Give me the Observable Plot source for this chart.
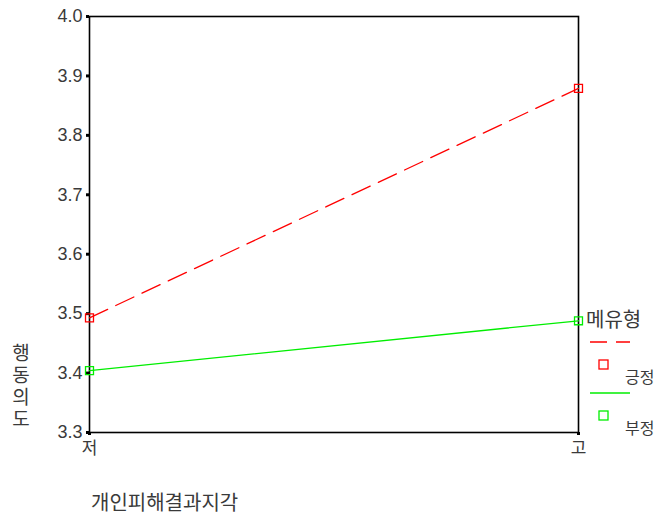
<!DOCTYPE html>
<html><head><meta charset="utf-8">
<script src="https://cdn.jsdelivr.net/npm/d3@7"></script>
<script src="https://cdn.jsdelivr.net/npm/@observablehq/plot@0.6"></script>
<style>
body{margin:0;background:#fff;}
#wrap{position:relative;width:659px;height:517px;}
#wrap svg{position:absolute;left:0;top:0;}
</style>
</head><body>
<div id="wrap"></div>
<script>
const categories = ["저", "고"];
const seriesNames = ["긍정", "부정"];
const positiveValues = [3.493, 3.879];
const negativeValues = [3.404, 3.488];
const yTicks = [3.3, 3.4, 3.5, 3.6, 3.7, 3.8, 3.9, 4.0];
const legendTitle = "메유형";
const xLabel = "개인피해결과지각";
const yLabel = "행동의도";

const colors = {"긍정": "#ff0000", "부정": "#00ee00"};
const data = [];
categories.forEach((c, i) => {
  data.push({cat: c, series: "긍정", value: positiveValues[i]});
  data.push({cat: c, series: "부정", value: negativeValues[i]});
});
const font = "'Liberation Sans', 'Noto Sans CJK KR', sans-serif";
const kfont = "'Noto Sans CJK KR', sans-serif";

const chart = Plot.plot({
  width: 659, height: 517,
  marginLeft: 89, marginRight: 81, marginTop: 16, marginBottom: 85,
  style: {fontFamily: font, fontSize: "18px", color: "#333", background: "transparent"},
  x: {type: "point", domain: categories, padding: 0, label: null},
  y: {domain: [3.3, 4.0], label: null},
  marks: [
    Plot.frame({stroke: "#000", strokeWidth: 1.6}),
    Plot.axisY({ticks: yTicks, tickFormat: d3.format(".1f"), tickSize: 3, strokeWidth: 3, stroke: "#000", tickPadding: 4, fontSize: 18, fill: "#3a3a3a", label: null}),
    Plot.axisX({tickSize: 3, strokeWidth: 3, stroke: "#000", tickPadding: 6, fontSize: 17, fontFamily: kfont, fill: "#3a3a3a", label: null}),
    Plot.line(data.filter(d => d.series === "긍정"), {x: "cat", y: "value", stroke: colors["긍정"], strokeWidth: 1.3, strokeDasharray: "20,9"}),
    Plot.line(data.filter(d => d.series === "부정"), {x: "cat", y: "value", stroke: colors["부정"], strokeWidth: 1.3}),
    Plot.dot(data, {x: "cat", y: "value", symbol: "square", r: 4.5, stroke: d => colors[d.series], fill: "none", strokeWidth: 1.3})
  ]
});
document.getElementById("wrap").appendChild(chart);

// Overlay for axis titles and legend
const svg = d3.select("#wrap").append("svg").attr("width", 659).attr("height", 517).style("pointer-events", "none");
svg.append("text").attr("x", 91).attr("y", 510).attr("font-family", kfont).attr("font-size", 20).attr("fill", "#3a3a3a").text(xLabel);
svg.append("text").attr("x", 21).attr("y", 343)
  .attr("font-family", kfont).attr("font-size", 19).attr("fill", "#3a3a3a")
  .style("writing-mode", "vertical-rl").style("text-orientation", "upright").style("letter-spacing", "3px")
  .text(yLabel);
svg.append("text").attr("x", 586).attr("y", 327).attr("font-family", kfont).attr("font-size", 20).attr("fill", "#3a3a3a").text(legendTitle);
const items = [
  {name: "긍정", dash: "17,9", y: 342},
  {name: "부정", dash: null, y: 393}
];
items.forEach(it => {
  const ln = svg.append("line").attr("x1", 590).attr("x2", 630).attr("y1", it.y).attr("y2", it.y)
    .attr("stroke", colors[it.name]).attr("stroke-width", 1.3);
  if (it.dash) ln.attr("stroke-dasharray", it.dash);
  svg.append("rect").attr("x", 599).attr("y", it.y + 18).attr("width", 9).attr("height", 9)
    .attr("fill", "none").attr("stroke", colors[it.name]).attr("stroke-width", 1.3);
  svg.append("text").attr("x", 625).attr("y", it.y + 41).attr("font-family", kfont).attr("font-size", 16).attr("fill", "#3a3a3a").text(it.name);
});
</script>
</body></html>
